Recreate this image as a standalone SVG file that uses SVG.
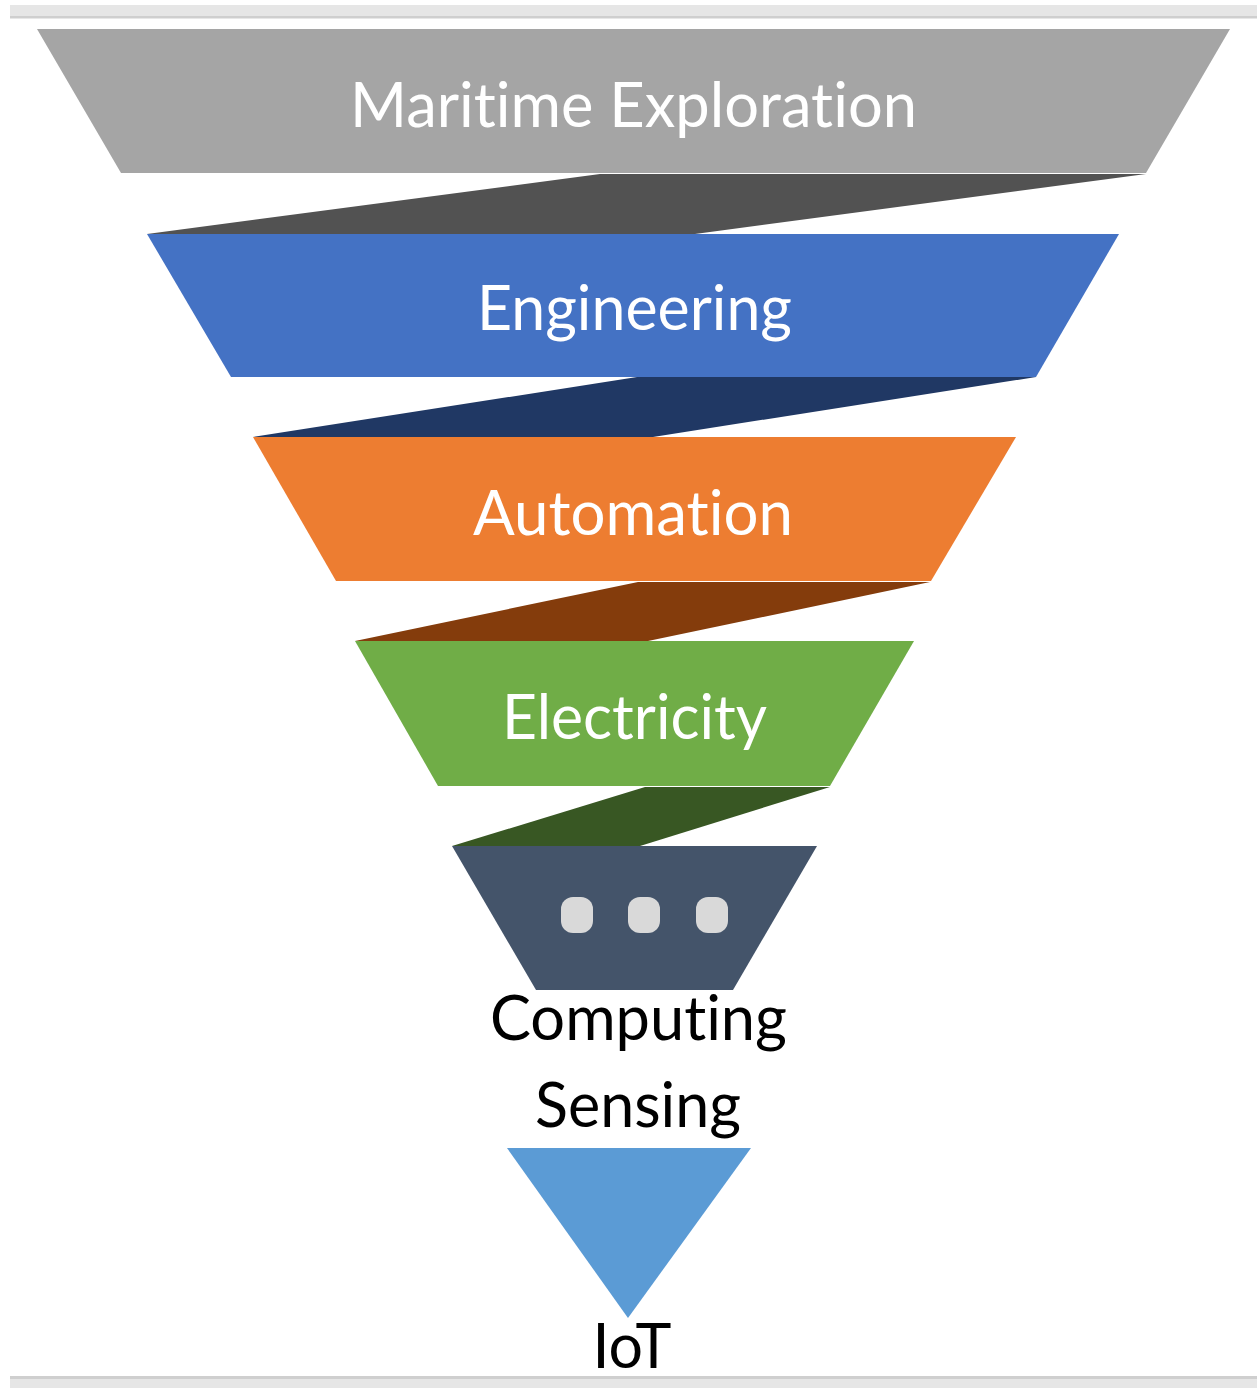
<svg xmlns="http://www.w3.org/2000/svg" width="1257" height="1388" viewBox="0 0 1257 1388">
  <style>
    .lbl { font-family: Lato, "Open Sans", "Liberation Sans", sans-serif; font-size: 61px; text-anchor: middle; font-variant-ligatures: none; font-feature-settings: "liga" 0, "clig" 0; }
    .w { fill: #FFFFFF; }
    .k { fill: #000000; }
    .dot { fill: #D9D9D9; }
  </style>
  <rect width="1257" height="1388" fill="#FFFFFF"/>
  <g id="frame">
    <rect x="10" y="5" width="1247" height="11" fill="#E6E6E6"/>
    <rect x="10" y="16" width="1247" height="2.5" fill="#CFCFCF"/>
    <rect x="10" y="1376" width="1247" height="3" fill="#CFCFCF"/>
    <rect x="10" y="1379" width="1247" height="9" fill="#E6E6E6"/>
  </g>
  <g id="connectors">
    <polygon points="147,234 600,174 1146,174 695,234" fill="#525252"/>
    <polygon points="253,437 637,377 1036,377 653,437" fill="#203864"/>
    <polygon points="355,641 638,582 930,582 648,641" fill="#843C0C"/>
    <polygon points="452,846 645,787 830,787 640,846" fill="#385723"/>
  </g>
  <g id="maritime-exploration">
    <polygon points="37,29 1230,29 1146,173 121,173" fill="#A5A5A5"/>
    <text class="lbl w" x="633.5" y="127" textLength="567" lengthAdjust="spacingAndGlyphs">Maritime Exploration</text>
  </g>
  <g id="engineering">
    <polygon points="147,234 1119,234 1036,377 231,377" fill="#4472C4"/>
    <text class="lbl w" x="634.5" y="330" textLength="315" lengthAdjust="spacingAndGlyphs">Engineering</text>
  </g>
  <g id="automation">
    <polygon points="253,437 1016,437 931,581 336,581" fill="#ED7D31"/>
    <text class="lbl w" x="633" y="535" textLength="320" lengthAdjust="spacingAndGlyphs">Automation</text>
  </g>
  <g id="electricity">
    <polygon points="355,641 914,641 830,786 438,786" fill="#70AD47"/>
    <text class="lbl w" x="634.5" y="739" textLength="265" lengthAdjust="spacingAndGlyphs">Electricity</text>
  </g>
  <g id="more">
    <polygon points="452,846 817,846 733,990 536,990" fill="#44546A"/>
    <rect class="dot" x="561" y="897" width="32" height="36" rx="12"/>
    <rect class="dot" x="628" y="897" width="32" height="36" rx="12"/>
    <rect class="dot" x="696" y="897" width="32" height="36" rx="12"/>
  </g>
  <g id="computing">
    <text class="lbl k" x="638.5" y="1040" textLength="297" lengthAdjust="spacingAndGlyphs">Computing</text>
  </g>
  <g id="sensing">
    <text class="lbl k" x="638" y="1127" textLength="206" lengthAdjust="spacingAndGlyphs">Sensing</text>
  </g>
  <g id="iot">
    <polygon points="507,1148 751,1148 628,1318" fill="#5B9BD5"/>
    <text class="lbl k" x="632" y="1368" textLength="79" lengthAdjust="spacingAndGlyphs">IoT</text>
  </g>
</svg>
